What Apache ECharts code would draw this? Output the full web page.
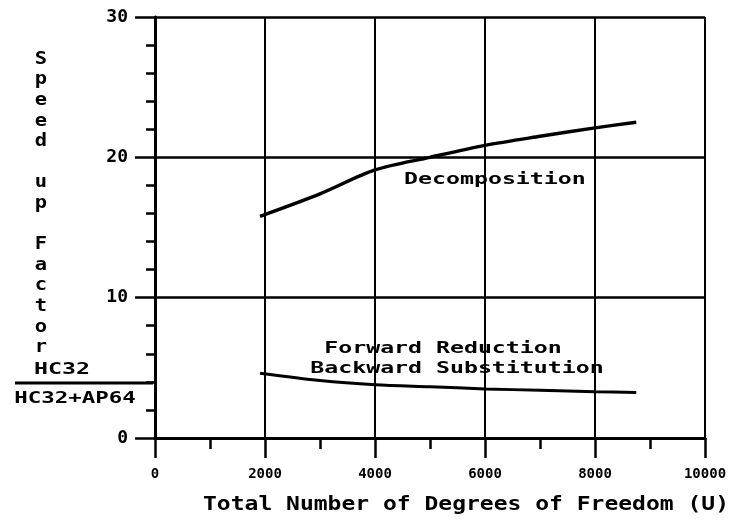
<!DOCTYPE html>
<html>
<head>
<meta charset="utf-8">
<script src="https://cdn.jsdelivr.net/npm/echarts@6/dist/echarts.min.js"></script>
<style>
  html, body { margin: 0; padding: 0; background: #fff; }
  #chart { width: 743px; height: 521px; }
</style>
</head>
<body>
<div id="chart"></div>
<script>
// Speed-up factor vs. problem size (total degrees of freedom)
const xTicks = [0, 2000, 4000, 6000, 8000, 10000];
const yTicks = [0, 10, 20, 30];

const decompX = [1910, 3000, 4000, 5000, 6000, 7000, 8000, 8750];
const decompY = [15.8, 17.4, 19.1, 20.0, 20.85, 21.5, 22.1, 22.5];

const fwdBackX = [1910, 3000, 4000, 5000, 6000, 7000, 8000, 8750];
const fwdBackY = [4.62, 4.1, 3.8, 3.65, 3.5, 3.4, 3.3, 3.25];

const curveNames = ['Decomposition', 'Forward Reduction', 'Backward Substitution'];
// anchor points (data units) for the curve captions
const captionX = [6180, 5236, 5490];
const captionY = [18.4, 6.36, 4.93];

const xTitle = 'Total Number of Degrees of Freedom (U)';
const yTitle = 'Speed up Factor';
const ratioTop = 'HC32';
const ratioBottom = 'HC32+AP64';

const MONO = "'DejaVu Sans Mono', monospace";
const INK = '#000';

const chart = echarts.init(document.getElementById('chart'), null, { renderer: 'canvas' });

function pairs(xs, ys) { return xs.map((x, i) => [x, ys[i]]); }

chart.setOption({
  backgroundColor: '#fff',
  animation: false,
  grid: { left: 155, right: 38, top: 17, bottom: 83, containLabel: false },
  xAxis: {
    type: 'value',
    min: xTicks[0], max: xTicks[xTicks.length - 1], interval: 2000,
    axisLine: { show: true, lineStyle: { color: INK, width: 3 } },
    axisTick: { show: true, length: 20, lineStyle: { color: INK, width: 2.5 } },
    minorTick: { show: true, splitNumber: 2, length: 11, lineStyle: { color: INK, width: 2.5 } },
    splitLine: { show: true, lineStyle: { color: INK, width: 2 } },
    axisLabel: {
      color: INK, fontFamily: MONO, fontWeight: 'bold', fontSize: 14, margin: 29,
      formatter: v => String(v)
    }
  },
  yAxis: {
    type: 'value',
    min: yTicks[0], max: yTicks[yTicks.length - 1], interval: 10,
    axisLine: { show: true, lineStyle: { color: INK, width: 3 } },
    axisTick: { show: true, length: 20, lineStyle: { color: INK, width: 2.5 } },
    minorTick: { show: true, splitNumber: 5, length: 9, lineStyle: { color: INK, width: 2.5 } },
    splitLine: { show: true, lineStyle: { color: INK, width: 2.5 } },
    axisLabel: {
      color: INK, fontFamily: MONO, fontWeight: 'bold', fontSize: 18, margin: 27,
      formatter: v => String(v)
    }
  },
  series: [
    {
      name: curveNames[0], type: 'line', smooth: 0.3, symbol: 'none',
      lineStyle: { color: INK, width: 3.5 },
      data: pairs(decompX, decompY)
    },
    {
      name: curveNames[1], type: 'line', smooth: 0.3, symbol: 'none',
      lineStyle: { color: INK, width: 3 },
      data: pairs(fwdBackX, fwdBackY)
    }
  ]
});

// Captions and axis titles drawn as stretched text
function caption(text, pos, size, sx) {
  return {
    type: 'text', x: pos[0], y: pos[1], scaleX: sx, z: 10,
    style: {
      text: text, fill: INK, font: 'bold ' + size + 'px ' + MONO,
      textAlign: 'center', textVerticalAlign: 'middle'
    }
  };
}

const graphics = [];
for (let i = 0; i < curveNames.length; i++) {
  const p = chart.convertToPixel({ gridIndex: 0 }, [captionX[i], captionY[i]]);
  graphics.push(caption(curveNames[i], p, 16, 1.45));
}
graphics.push(caption(xTitle, [466, 505], 19, 1.21));
graphics.push({
  type: 'text', x: 41, y: 49, scaleX: 1.2, z: 10,
  style: {
    text: yTitle.split('').join('\n').replace(/\n \n/g, '\n\n'),
    fill: INK, font: 'bold 17px ' + MONO, lineHeight: 20.6,
    textAlign: 'center', textVerticalAlign: 'top'
  }
});
graphics.push(caption(ratioTop, [62, 370], 16, 1.45));
graphics.push({
  type: 'line', z: 10,
  shape: { x1: 15, y1: 383, x2: 153, y2: 383 },
  style: { stroke: INK, lineWidth: 3 }
});
graphics.push(caption(ratioBottom, [75, 399], 16, 1.4));

chart.setOption({ graphic: graphics });
</script>
</body>
</html>
